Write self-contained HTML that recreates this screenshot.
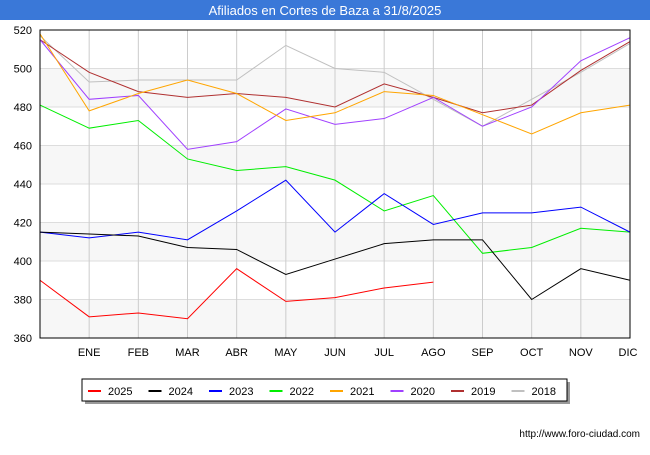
<!DOCTYPE html>
<html><head><meta charset="utf-8"><style>
body{margin:0;width:650px;height:450px;background:#fff;font-family:"Liberation Sans",sans-serif;overflow:hidden}
</style></head><body>
<svg width="650" height="450">
<rect x="0" y="0" width="650" height="20" fill="#3a78d8"/>
<text x="325" y="15" text-anchor="middle" font-size="13" fill="#fff">Afiliados en Cortes de Baza a 31/8/2025</text>
<g id="bands"></g><g id="grid"></g><g id="series"></g>
<rect x="40" y="30" width="590" height="308" fill="none" stroke="#000" stroke-width="1"/>
<g id="yl"></g><g id="xl"></g>
<rect x="85" y="382" width="485" height="22" fill="#999"/>
<rect x="82" y="379" width="485" height="22" fill="#fff" stroke="#000"/>
<g id="leg"></g>
<text x="640" y="437" text-anchor="end" font-size="10" fill="#000">http://www.foro-ciudad.com</text>
</svg>
<script>
const months=["","ENE","FEB","MAR","ABR","MAY","JUN","JUL","AGO","SEP","OCT","NOV","DIC"];
const yTicks=[360,380,400,420,440,460,480,500,520];
const names=["2025","2024","2023","2022","2021","2020","2019","2018"];
const colors=["#ff0000","#000000","#0000ff","#00ee00","#ffa500","#a040ff","#b03030","#c0c0c0"];
const s2025=[390,371,373,370,396,379,381,386,389];
const s2024=[415,414,413,407,406,393,401,409,411,411,380,396,390];
const s2023=[415,412,415,411,426,442,415,435,419,425,425,428,415];
const s2022=[481,469,473,453,447,449,442,426,434,404,407,417,415];
const s2021=[518,478,487,494,487,473,477,488,486,476,466,477,481];
const s2020=[515,484,486,458,462,479,471,474,485,470,480,504,516];
const s2019=[515,498,488,485,487,485,480,492,485,477,481,499,514];
const s2018=[517,493,494,494,494,512,500,498,484,470,484,498,513];
const series=[s2025,s2024,s2023,s2022,s2021,s2020,s2019,s2018];
const NS="http://www.w3.org/2000/svg";
const X=i=>40+i*590/12, Y=v=>338-(v-360)*308/160;
function mk(t,a,p){const e=document.createElementNS(NS,t);for(const k in a)e.setAttribute(k,a[k]);document.getElementById(p).appendChild(e);return e;}
for(let k=0;k<yTicks.length-1;k+=2){
 const e=mk("rect",{x:40,y:Y(yTicks[k+1]),width:590,height:Y(yTicks[k])-Y(yTicks[k+1]),fill:"#f7f7f7"},"bands");
 
 
}
yTicks.forEach(v=>{
 const l=mk("line",{x1:40,x2:630,y1:Y(v),y2:Y(v),stroke:"#ddd"},"grid");
 
 
 const t=mk("text",{x:32,y:Y(v)+4,"text-anchor":"end","font-size":11},"yl");t.textContent=v;
 
 
});
months.forEach((m,i)=>{
 if(i>0&&i<12){const l=mk("line",{x1:X(i),x2:X(i),y1:30,y2:338,stroke:"#ccc"},"grid");
 
 }
 if(m){const t=mk("text",{x:X(i)-(i==12?2:0),y:356,"text-anchor":"middle","font-size":11},"xl");t.textContent=m;
 
 }
});
for(let s=series.length-1;s>=0;s--){
 const p=mk("polyline",{points:series[s].map((v,i)=>X(i)+","+Y(v)).join(" "),fill:"none",stroke:colors[s],"stroke-width":1},"series");
 
 
}
names.forEach((n,i)=>{
 const x=88+i*60.5;
 const l=mk("line",{x1:x,x2:x+13,y1:391,y2:391,stroke:colors[i],"stroke-width":2},"leg");
 
 
 const t=mk("text",{x:x+20,y:395,"font-size":11},"leg");t.textContent=n;
 
 
});
</script>
</body></html>
